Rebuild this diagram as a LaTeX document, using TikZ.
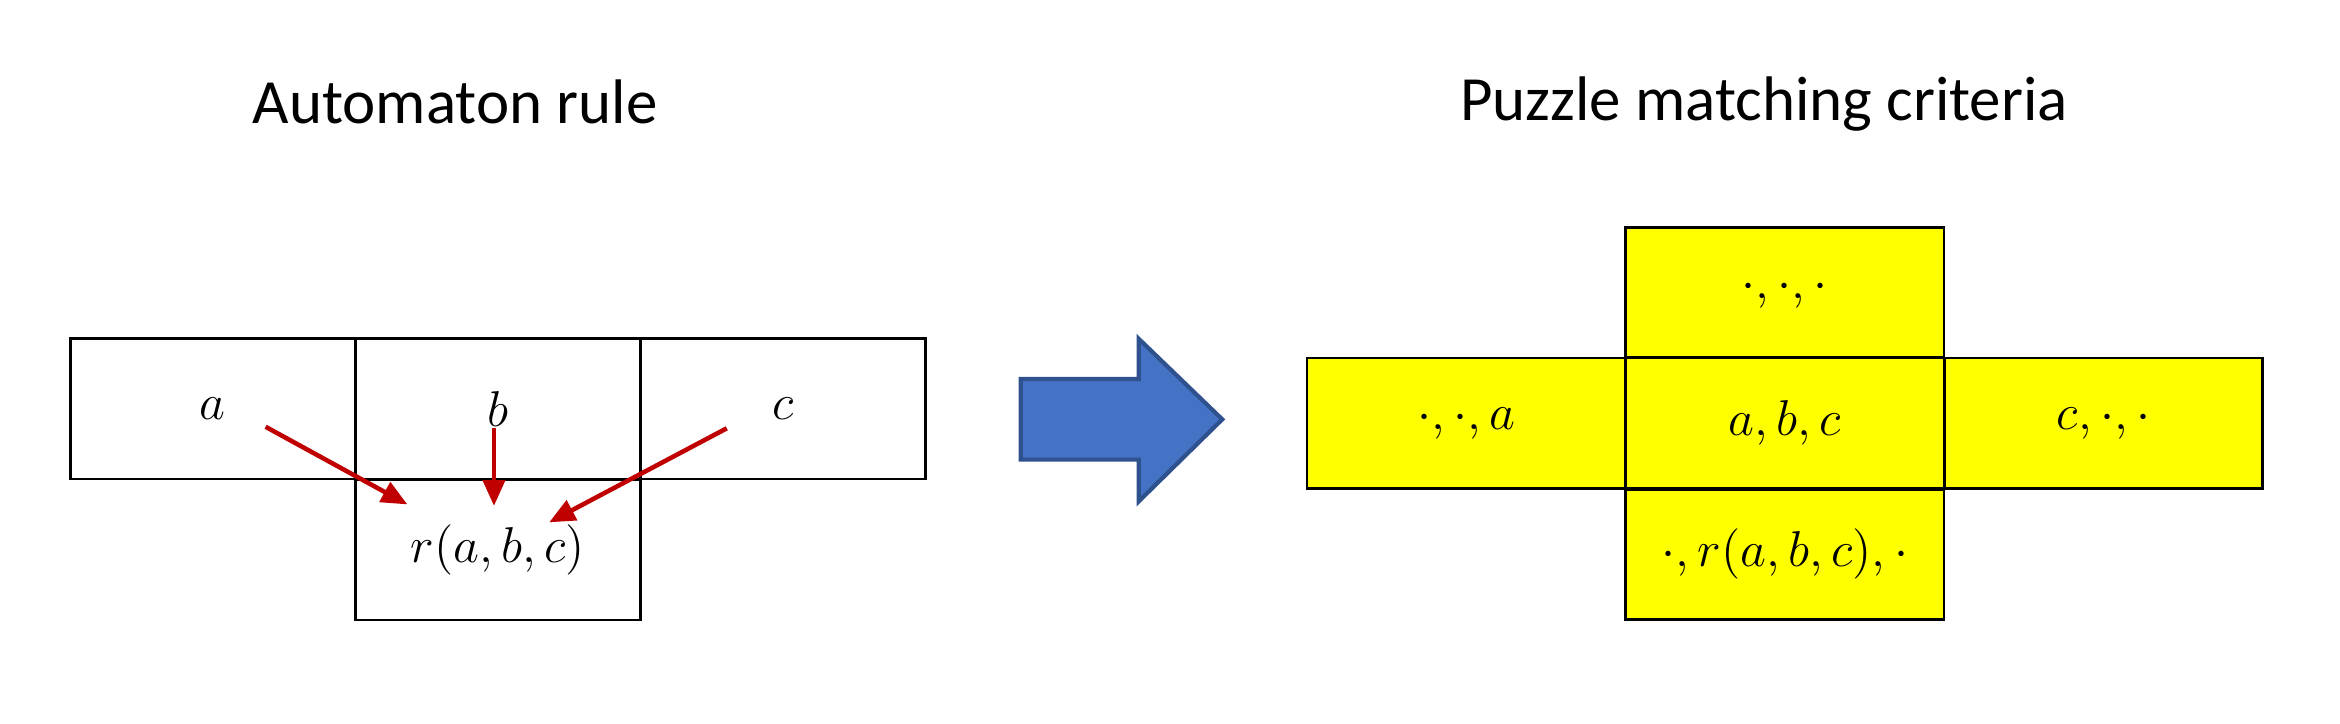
\documentclass[tikz,border=0pt]{standalone}
\usepackage{fontspec}
\setmainfont{Carlito}
\usetikzlibrary{arrows.meta}
\definecolor{rulered}{HTML}{C00000}
\definecolor{arrowblue}{HTML}{4472C4}
\definecolor{arrowedge}{HTML}{2F528F}
\definecolor{puzzleyellow}{HTML}{FFFF00}
\begin{document}
\begin{tikzpicture}[
  x=0.015cm, y=-0.015cm,
  title/.style={font=\fontsize{18}{22}\selectfont, inner sep=0pt},
  cell/.style={draw=black, line width=0.8pt, minimum width=2.865cm, minimum height=1.41cm, inner sep=0pt, font=\fontsize{15}{17}\selectfont},
  pcell/.style={draw=black, line width=0.8pt, fill=puzzleyellow, minimum width=3.2cm, minimum height=1.31cm, inner sep=0pt, font=\fontsize{15}{17}\selectfont},
  dep/.style={-{Triangle[length=2.6mm, width=2.2mm]}, line width=1.3pt, rulered},
]
\useasboundingbox (0,0) rectangle (1568,485);
% ================= automaton rule =================
\node[title] (tRule) at (305,68) {Automaton rule};
\node[cell] (ca) at (142.5,274) {$a$};
\node[cell] (cb) at (333.5,274) {$b$};
\node[cell] (cc) at (524.5,274) {$c$};
\node[cell] (cr) at (333.5,368.5) {$r(a,b,c)$};
\coordinate (fa) at (178,286); \coordinate (ta) at (273,338);
\coordinate (fb) at (331,287); \coordinate (tb) at (331,339);
\coordinate (fc) at (487,287); \coordinate (tc) at (368,350);
\draw[dep] (fa) -- (ta);
\draw[dep] (fb) -- (tb);
\draw[dep] (fc) -- (tc);
% ================= big arrow =================
\draw[arrowedge, line width=1.2pt, fill=arrowblue, line join=miter]
  (684,254) -- (763,254) -- (763,227) -- (819,281) -- (763,336) -- (763,308) -- (684,308) -- cycle;
% ================= puzzle matching criteria =================
\node[title] (tPuzzle) at (1182,70) {Puzzle matching criteria};
\node[pcell] (pn) at (1196,196) {$\cdot,\cdot,\cdot$};
\node[pcell] (pw) at (982.5,283.5) {$\cdot,\cdot,a$};
\node[pcell] (pc) at (1196,283.5) {$a,b,c$};
\node[pcell] (pe) at (1409.5,283.5) {$c,\cdot,\cdot$};
\node[pcell] (ps) at (1196,371.5) {$\cdot,r(a,b,c),\cdot$};
\end{tikzpicture}
\end{document}
